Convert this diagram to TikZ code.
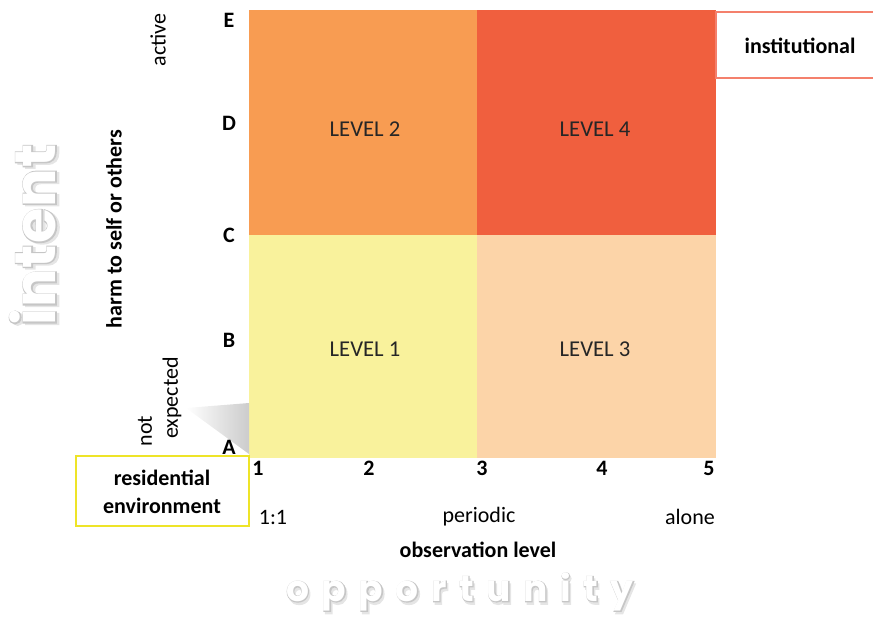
\documentclass[tikz,border=0pt]{standalone}
\usepackage{fontspec}
\setmainfont{Carlito}
\newfontfamily\roundfont[LetterSpace=2]{Poppins}
\newfontfamily\roundline[LetterSpace=2, BoldFeatures={FakeBold=4}]{Poppins}
\newfontfamily\roundwide[LetterSpace=35]{Poppins}
\newfontfamily\roundwideline[LetterSpace=35, BoldFeatures={FakeBold=4}]{Poppins}
\usetikzlibrary{positioning,calc}

\definecolor{lvlone}{RGB}{249,242,156}
\definecolor{lvltwo}{RGB}{248,156,82}
\definecolor{lvlthree}{RGB}{252,212,168}
\definecolor{lvlfour}{RGB}{240,95,62}
\definecolor{instline}{RGB}{244,128,108}
\definecolor{resline}{RGB}{238,228,40}

\tikzset{
  axislbl/.style={font=\fontsize{16.5}{19}\selectfont\bfseries, inner sep=0pt},
  scalelbl/.style={font=\fontsize{16.5}{19}\selectfont, inner sep=0pt},
  levellbl/.style={font=\fontsize{17}{19}\selectfont, text=black!85},
  ghost/.style={inner sep=0pt, text=white}
}

\begin{document}
\begin{tikzpicture}[x=0.75pt,y=-0.75pt]
\useasboundingbox (0,0) rectangle (873,617);

% cells of the grid
\fill[lvltwo] (249,10) rectangle (477,235);
\fill[lvlfour] (477,10) rectangle (716,235);
\fill[lvlone] (249,235) rectangle (477,458);
\fill[lvlthree] (477,235) rectangle (716,458);
\node[levellbl] (lvl2) at (365,129) {LEVEL 2};
\node[levellbl] (lvl4) at (595,129) {LEVEL 4};
\node[levellbl] (lvl1) at (365,349) {LEVEL 1};
\node[levellbl] (lvl3) at (595,349) {LEVEL 3};

% shadow below "expected"
\shade[shading angle=225, left color=white, right color=gray!40]
  (186,408) -- (249,403) -- (249,454) -- cycle;

% boxes at the two corners
\draw[instline, line width=1.2pt, fill=white] (873,12) -- (716,12) -- (716,78) -- (873,78);
\node[axislbl] (inst) at (800,46) {institutional};
\draw[resline, line width=1.2pt, fill=white] (76,456) rectangle (249,526);
\node[axislbl, align=center, font=\fontsize{16.5}{21}\selectfont\bfseries] (resid) at (162,492) {residential\\environment};

% vertical scale
\foreach \l/\y in {E/20,D/123,C/235,B/340,A/447}
  \node[axislbl] (y\l) at (229,\y) {\l};
\node[axislbl, rotate=90] (harm) at (114,229) {harm to self or others};
\node[scalelbl, rotate=90] (active) at (158,40) {active};
\node[scalelbl, rotate=90] (notlbl) at (145,431) {not};
\node[scalelbl, rotate=90] (explbl) at (172,398) {expected};

% horizontal scale
\foreach \n/\x in {1/258,2/369,3/482,4/602,5/709}
  \node[axislbl] (x\n) at (\x,468) {\n};
\node[scalelbl] (obs1) at (273,517) {1:1};
\node[scalelbl] (obs3) at (479,517) {periodic};
\node[scalelbl] (obs5) at (690,517) {alone};
\node[axislbl] (obs) at (478,550) {observation level};

% outlined words: soft shadow, grey rim, white face
\node[ghost, text=gray!20, rotate=90, font=\roundline\bfseries\fontsize{43}{43}\selectfont] at (35.5,236.5) {intent};
\node[ghost, text=gray!45, rotate=90, font=\roundline\bfseries\fontsize{43}{43}\selectfont] at (33,235) {intent};
\node[ghost, rotate=90, font=\roundfont\bfseries\fontsize{43}{43}\selectfont] (intent) at (33,235) {intent};
\node[ghost, text=gray!20, font=\roundwideline\bfseries\fontsize{27}{27}\selectfont] at (461.5,594.5) {opportunity};
\node[ghost, text=gray!45, font=\roundwideline\bfseries\fontsize{27}{27}\selectfont] at (460,592) {opportunity};
\node[ghost, font=\roundwide\bfseries\fontsize{27}{27}\selectfont] (opport) at (460,592) {opportunity};
\end{tikzpicture}
\end{document}
